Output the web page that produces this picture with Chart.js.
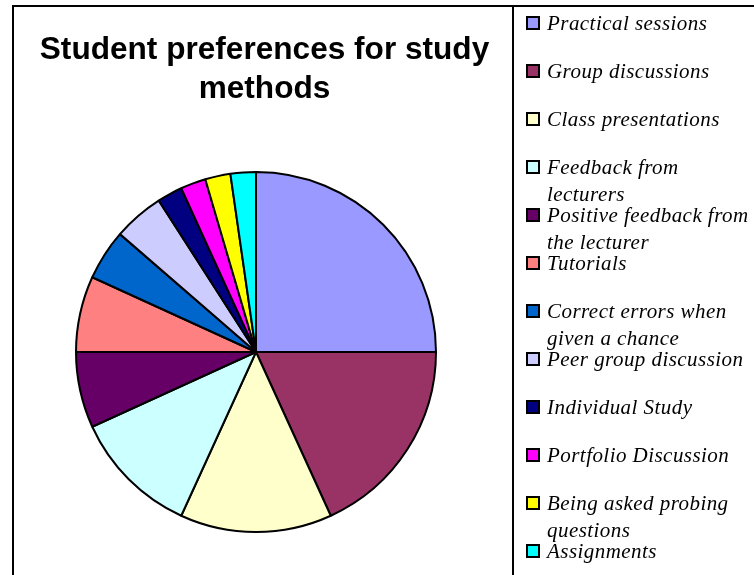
<!DOCTYPE html>
<html>
<head>
<meta charset="utf-8">
<script src="https://cdn.jsdelivr.net/npm/chart.js@4/dist/chart.umd.min.js"></script>
<style>
  html, body { margin: 0; padding: 0; background: #ffffff; }
  #wrap { width: 754px; height: 575px; position: relative; }
</style>
</head>
<body>
<div id="wrap"><canvas id="pie" width="754" height="575"></canvas></div>
<script>
// Study methods (multi-line entries wrap in the key)
const categories = [
  'Practical sessions',
  'Group discussions',
  'Class presentations',
  ['Feedback from', 'lecturers'],
  ['Positive feedback from', 'the lecturer'],
  'Tutorials',
  ['Correct errors when', 'given a chance'],
  'Peer group discussion',
  'Individual Study',
  'Portfolio Discussion',
  ['Being asked probing', 'questions'],
  'Assignments'
];

// Number of students choosing each method
const responses = [11, 8, 6, 5, 3, 3, 2, 2, 1, 1, 1, 1];

const sliceColours = [
  '#9999FF', '#993366', '#FFFFCC', '#CCFFFF', '#660066', '#FF8080',
  '#0066CC', '#CCCCFF', '#000080', '#FF00FF', '#FFFF00', '#00FFFF'
];

const chartTitle = ['Student preferences for study', 'methods'];

// Frame, title and key drawn around the pie
const decorations = {
  id: 'decorations',
  afterDraw(chart) {
    const ctx = chart.ctx;
    ctx.save();

    // outer frame and key divider
    ctx.strokeStyle = '#000000';
    ctx.lineWidth = 2;
    ctx.beginPath();
    ctx.moveTo(12, 6); ctx.lineTo(754, 6);
    ctx.moveTo(13, 5); ctx.lineTo(13, 575);
    ctx.moveTo(513, 6); ctx.lineTo(513, 575);
    ctx.stroke();

    // title
    ctx.fillStyle = '#000000';
    ctx.font = 'bold 31.6px "Liberation Sans", Arial, sans-serif';
    ctx.textAlign = 'center';
    ctx.textBaseline = 'alphabetic';
    chartTitle.forEach((line, i) => ctx.fillText(line, 264.5, 59 + i * 39));

    // key
    const ds = chart.data.datasets[0];
    ctx.textAlign = 'left';
    ctx.font = 'italic 21px "Liberation Serif", "Times New Roman", serif';
    if ('letterSpacing' in ctx) ctx.letterSpacing = '0.45px';
    chart.data.labels.forEach((label, i) => {
      const base = 30 + i * 48;
      ctx.fillStyle = ds.backgroundColor[i];
      ctx.fillRect(527, base - 13, 12, 12);
      ctx.lineWidth = 2;
      ctx.strokeStyle = '#000000';
      ctx.strokeRect(527, base - 13, 12, 12);
      ctx.fillStyle = '#000000';
      const lines = Array.isArray(label) ? label : [label];
      lines.forEach((t, j) => ctx.fillText(t, 547, base + j * 27));
    });
    ctx.restore();
  }
};

new Chart(document.getElementById('pie'), {
  type: 'pie',
  data: {
    labels: categories,
    datasets: [{
      data: responses,
      backgroundColor: sliceColours,
      borderColor: '#000000',
      borderWidth: 2,
      radius: 180
    }]
  },
  options: {
    responsive: false,
    animation: false,
    devicePixelRatio: 1,
    layout: { padding: { left: 70, right: 312, top: 160, bottom: 31 } },
    plugins: {
      legend: { display: false },
      title: { display: false },
      tooltip: { enabled: false }
    }
  },
  plugins: [decorations]
});
</script>
</body>
</html>
